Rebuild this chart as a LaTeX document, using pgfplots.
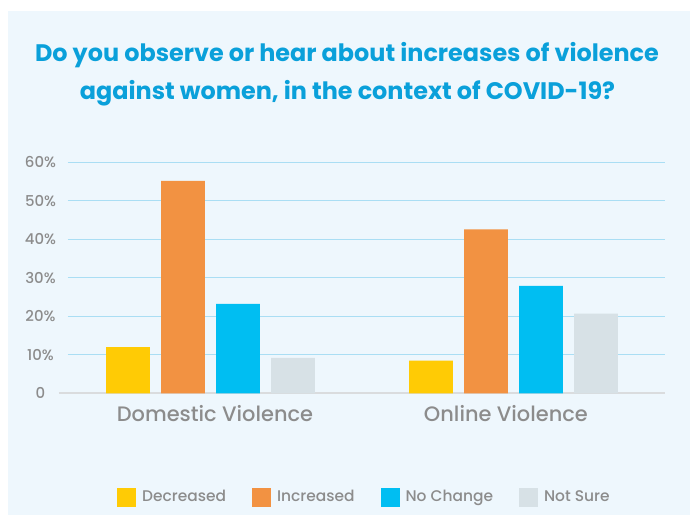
\documentclass[border=0pt]{standalone}
\usepackage{pgfplots}
\pgfplotsset{compat=1.18}
\usepackage{fontspec}
\setmainfont{Poppins}
\newfontfamily\medfont{Poppins Medium}
\definecolor{panel}{RGB}{238,247,253}
\definecolor{titleblue}{RGB}{10,160,218}
\definecolor{txtgray}{RGB}{140,140,140}
\definecolor{gridblue}{RGB}{170,222,244}
\definecolor{axgray}{RGB}{218,220,222}
\definecolor{cyel}{RGB}{255,203,5}
\definecolor{corg}{RGB}{242,146,66}
\definecolor{cblu}{RGB}{0,190,242}
\definecolor{cgry}{RGB}{215,225,230}
\begin{document}
\begin{tikzpicture}
\path[use as bounding box] (-68bp,-121.7bp) rectangle (628bp,393.3bp);
\fill[panel] (-60bp,-121.7bp) rectangle (622bp,382.3bp);
\begin{axis}[
  at={(0,0)}, anchor=south west,
  scale only axis, width=597bp, height=231bp,
  xmin=-0.47, xmax=1.5, ymin=0, ymax=60,
  ybar=11.3bp, bar width=43.7bp,
  axis x line*=bottom, axis y line*=left,
  y axis line style={draw=none},
  x axis line style={draw=axgray, line width=2bp, -, shorten <=-9bp},
  xtick={0.015,0.975}, xticklabels={Domestic Violence, Online Violence},
  ytick={0,10,20,30,40,50,60},
  yticklabels={0,10\%,20\%,30\%,40\%,50\%,60\%},
  ymajorgrids, grid style={draw=gridblue, line width=1bp},
  major tick length=0pt,
  yticklabel style={anchor=center, xshift=-27.5bp, font=\medfont\fontsize{15}{16}\selectfont, text=txtgray},
  xticklabel style={anchor=center, yshift=-20bp, font=\medfont\fontsize{21}{22}\selectfont, text=txtgray},
  legend columns=4,
  legend style={at={(49bp,-103.7bp)}, anchor=west, draw=none, fill=none, inner sep=0pt,
    font=\medfont\fontsize{15.5}{18}\selectfont, text=txtgray,
    /tikz/every odd column/.append style={column sep=4bp},
    /tikz/every even column/.append style={column sep=24bp}},
  legend image code/.code={\fill[#1,draw=none] (0bp,-9.5bp) rectangle (19bp,9.5bp);},
]
\addplot[fill=cyel, draw=none] coordinates {(0,12.0) (1,8.5)};
\addplot[fill=corg, draw=none] coordinates {(0,55.2) (1,42.6)};
\addplot[fill=cblu, draw=none] coordinates {(0,23.2) (1,27.9)};
\addplot[fill=cgry, draw=none] coordinates {(0,9.2) (1,20.7)};
\legend{Decreased, Increased, No Change, Not Sure}
\end{axis}
\node[anchor=base, text=titleblue, font=\fontsize{24}{26}\selectfont\bfseries] at (279bp,331.3bp) {Do you observe or hear about increases of violence};
\node[anchor=base, text=titleblue, font=\fontsize{24}{26}\selectfont\bfseries] at (279.5bp,293.3bp) {against women, in the context of COVID-19?};
\end{tikzpicture}
\end{document}
